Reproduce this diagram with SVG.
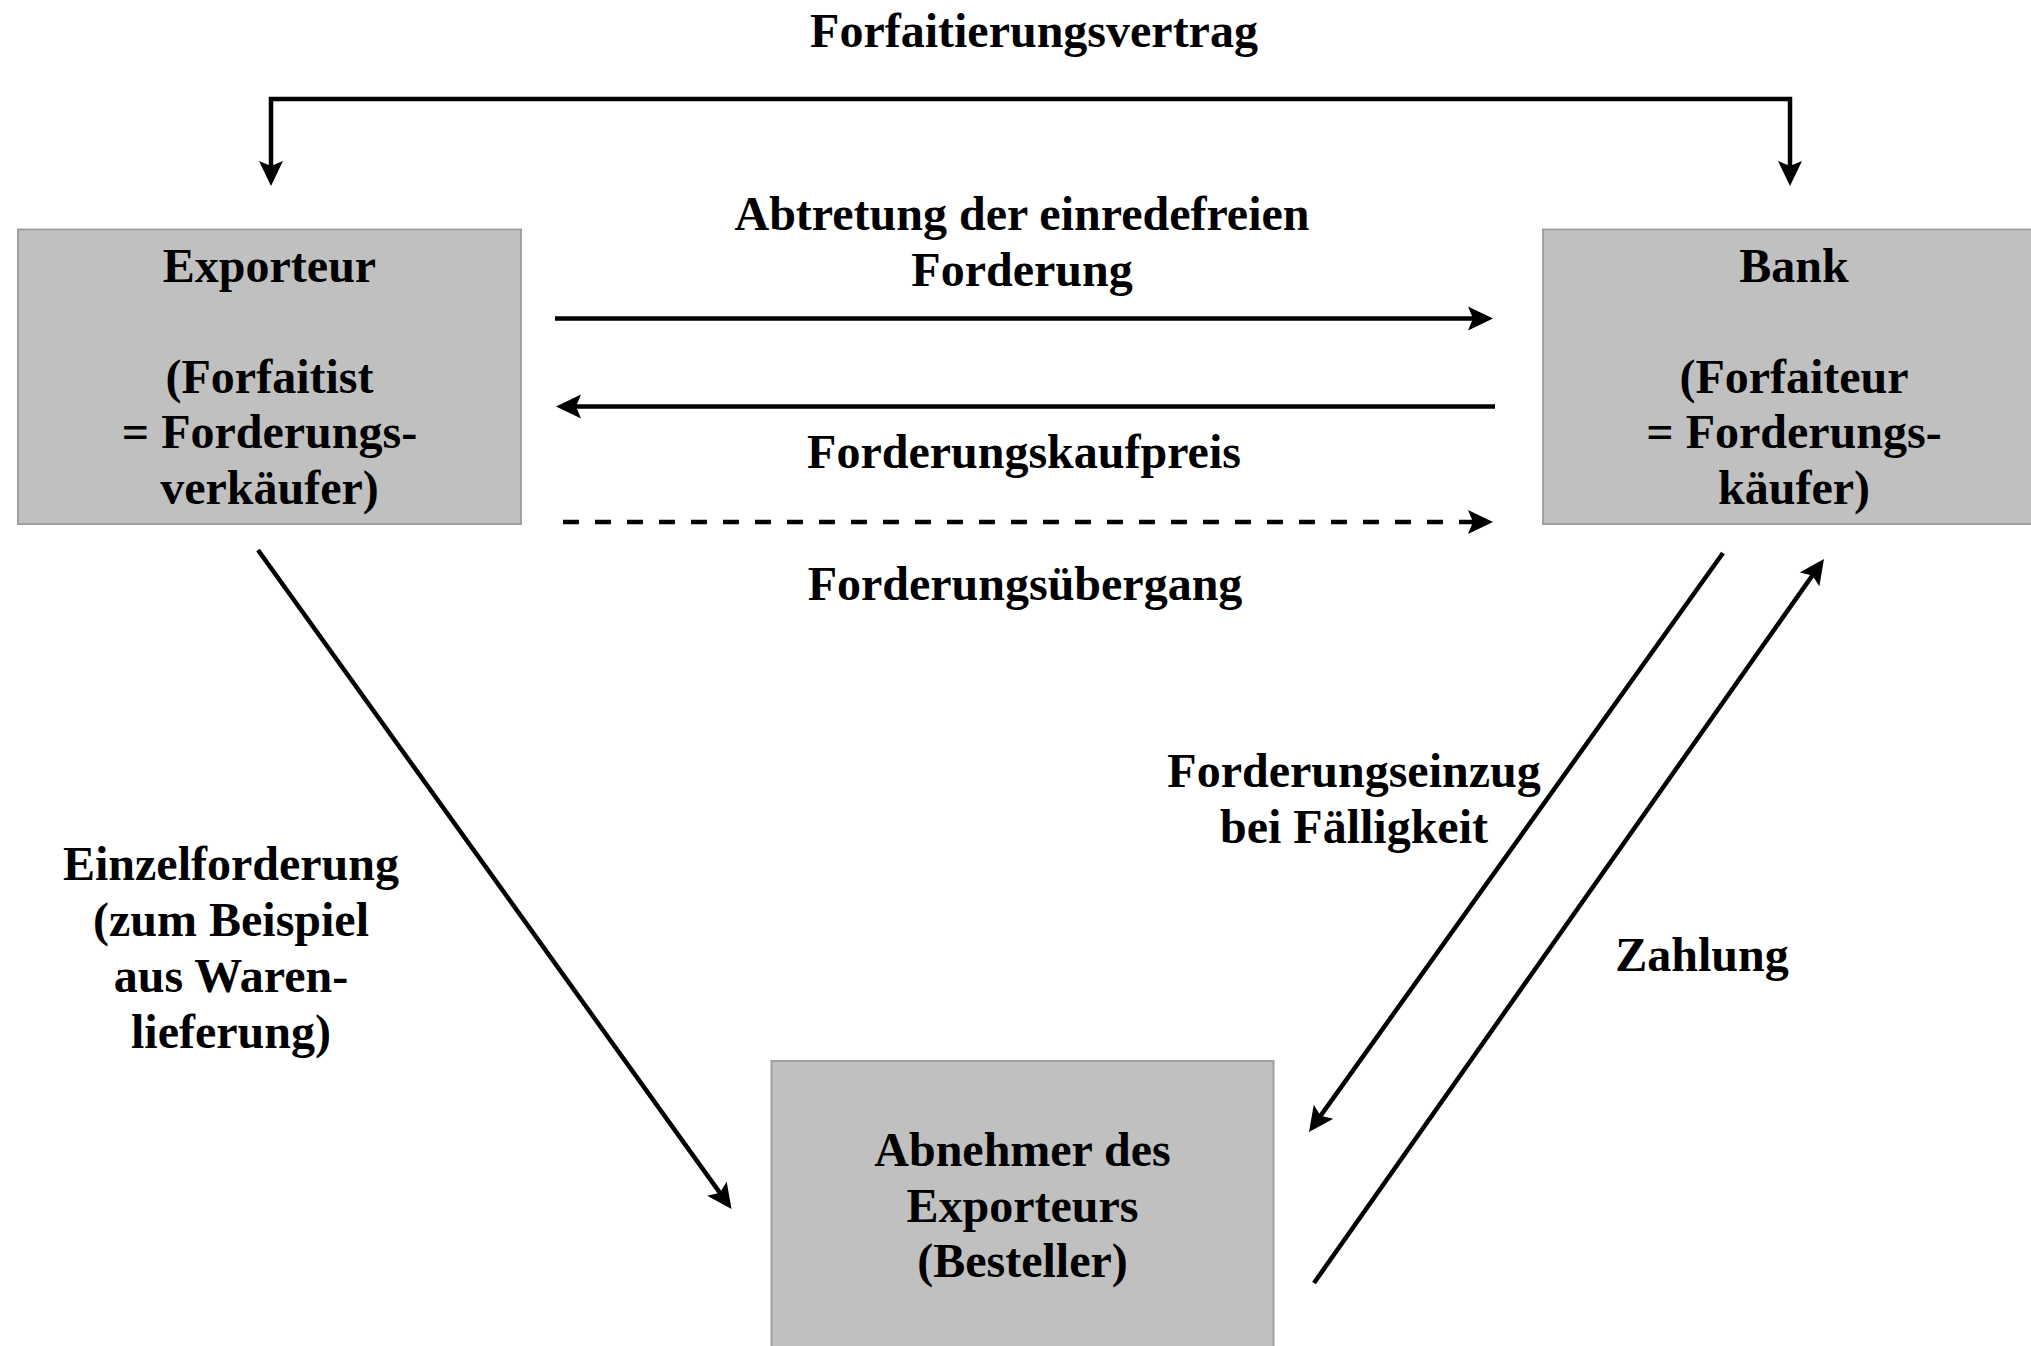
<svg xmlns="http://www.w3.org/2000/svg" width="2031" height="1346" viewBox="0 0 2031 1346">
  <style>
    .box { fill: #c0c0c0; stroke: #a0a0a0; stroke-width: 2; }
    text { font-family: "Liberation Serif", "Times New Roman", serif; font-weight: bold; font-size: 48px; fill: #000; text-anchor: middle; }
    .line { fill: none; stroke: #000; stroke-width: 4.5; }
    .dash { stroke-dasharray: 16 16; }
  </style>
  <defs>
    <marker id="arrow" markerUnits="userSpaceOnUse" markerWidth="26" markerHeight="26" viewBox="0 -13 26 26" refX="15" refY="0" orient="auto-start-reverse" overflow="visible">
      <path d="M0,-12 L25,0 L0,12 L5,0 z" fill="#000"/>
    </marker>
  </defs>

  <rect width="2031" height="1346" fill="#fff"/>

  <!-- parties -->
  <g id="exporteur">
    <rect class="box" x="18" y="229.5" width="503" height="294.5"/>
    <text x="269.5" y="281.5">Exporteur</text>
    <text x="269.5" y="392.5">(Forfaitist</text>
    <text x="269.5" y="448">= Forderungs-</text>
    <text x="269.5" y="503.5">verkäufer)</text>
  </g>
  <g id="bank">
    <rect class="box" x="1543" y="229.5" width="503" height="294.5"/>
    <text x="1794" y="281.5">Bank</text>
    <text x="1794" y="392.5">(Forfaiteur</text>
    <text x="1794" y="448">= Forderungs-</text>
    <text x="1794" y="503.5">käufer)</text>
  </g>
  <g id="abnehmer">
    <rect class="box" x="771.5" y="1061" width="502" height="295"/>
    <text x="1022.5" y="1166">Abnehmer des</text>
    <text x="1022.5" y="1221.5">Exporteurs</text>
    <text x="1022.5" y="1277">(Besteller)</text>
  </g>

  <!-- flows between the parties -->
  <g id="connectors">
    <path class="line" d="M271,176 L271,99 L1790,99 L1790,176" marker-start="url(#arrow)" marker-end="url(#arrow)"/>
    <line class="line" x1="555" y1="318.5" x2="1483" y2="318.5" marker-end="url(#arrow)"/>
    <line class="line" x1="1495" y1="406.5" x2="566" y2="406.5" marker-end="url(#arrow)"/>
    <line class="line dash" x1="563" y1="522" x2="1483" y2="522" marker-end="url(#arrow)"/>
    <line class="line" x1="258" y1="550" x2="725.7" y2="1200.9" marker-end="url(#arrow)"/>
    <line class="line" x1="1723" y1="553" x2="1314.8" y2="1123.9" marker-end="url(#arrow)"/>
    <line class="line" x1="1314" y1="1283" x2="1818.2" y2="567.2" marker-end="url(#arrow)"/>
  </g>

  <!-- flow labels -->
  <g id="labels">
    <text x="1034" y="47">Forfaitierungsvertrag</text>
    <text x="1022" y="229.5">Abtretung der einredefreien</text>
    <text x="1022" y="286">Forderung</text>
    <text x="1024" y="468">Forderungskaufpreis</text>
    <text x="1025" y="600">Forderungsübergang</text>
    <text x="1354" y="786.5">Forderungseinzug</text>
    <text x="1354" y="842.5">bei Fälligkeit</text>
    <text x="1702" y="970.5">Zahlung</text>
    <text x="231" y="880">Einzelforderung</text>
    <text x="231" y="936">(zum Beispiel</text>
    <text x="231" y="992">aus Waren-</text>
    <text x="231" y="1048">lieferung)</text>
  </g>
</svg>
